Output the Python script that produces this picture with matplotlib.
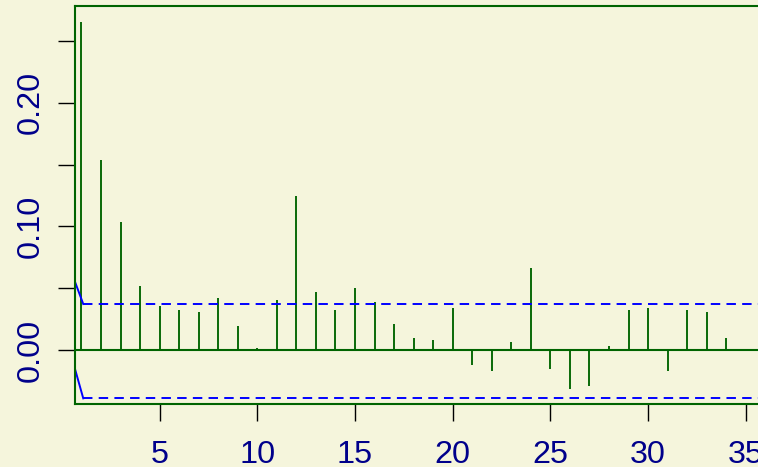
import numpy as np
import matplotlib.pyplot as plt

plt.rcParams['font.family'] = ['Liberation Sans', 'DejaVu Sans']
plt.rcParams['lines.scale_dashes'] = False

# sample autocorrelations, lags 1..34
lags = np.arange(1, 35)
acf = [0.265, 0.1537, 0.1038, 0.0518, 0.0356, 0.0324, 0.0307, 0.0418, 0.0194, 0.0013,
       0.0405, 0.1249, 0.0467, 0.0321, 0.0499, 0.0386, 0.0208, 0.0094, 0.0081, 0.0337,
       -0.0124, -0.0173, 0.0062, 0.0661, -0.0156, -0.0318, -0.0289, 0.0032, 0.0321, 0.0337,
       -0.0173, 0.0324, 0.0305, 0.0094]

# confidence bounds: steep start, then flat
bound_lags = [0.683, 1.09, 37.0]
upper = [0.0545, 0.0372, 0.0372]
lower = [-0.0162, -0.0391, -0.0391]

xticks = [5, 10, 15, 20, 25, 30, 35]
yticks = [0.00, 0.10, 0.20]
yticks_minor = [0.05, 0.15, 0.25]

bg = '#F5F5DC'
green = '#006400'
navy = '#00008B'

W, H = 758, 467
fig = plt.figure(figsize=(W / 100, H / 100), dpi=100, facecolor=bg)
ax = fig.add_axes([75.3 / W, (H - 404.3) / H, (770 - 75.3) / W, (404.3 - 6) / H])
ax.set_facecolor(bg)

ax.vlines(lags, 0, acf, color=green, lw=1.35)
ax.axhline(0, color=green, lw=1.5)

ax.plot(bound_lags[:2], upper[:2], color='#0000FF', lw=1.4)
ax.plot(bound_lags[:2], lower[:2], color='#0000FF', lw=1.4)
ax.plot(bound_lags[1:], upper[1:], color='#0000FF', lw=1.4, dashes=(6.8, 4.5))
ax.plot(bound_lags[1:], lower[1:], color='#0000FF', lw=1.4, dashes=(6.8, 4.5))

ax.set_xlim(0.683, 36.24)
ax.set_ylim(-0.0439, 0.2782)

for s in ax.spines.values():
    s.set_color(green)
    s.set_linewidth(1.5)

ax.set_xticks(xticks)
ax.set_yticks(yticks)
ax.set_yticks(yticks_minor, minor=True)
ax.set_yticklabels(['%.2f' % v for v in yticks], rotation=90, va='center')
ax.tick_params(axis='both', which='both', length=12.2, width=1.0, color='black',
               labelcolor=navy, labelsize=23.3)
ax.tick_params(axis='x', pad=13.5)
ax.tick_params(axis='y', pad=9)

fig.savefig('out.png', dpi=100, facecolor=bg)
